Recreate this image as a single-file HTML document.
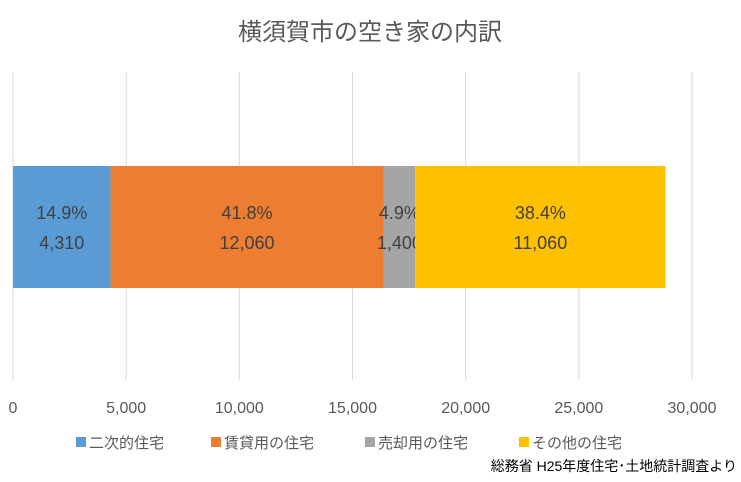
<!DOCTYPE html>
<html><head><meta charset="utf-8">
<style>
body{margin:0;background:#fff;}
svg text{font-family:"Liberation Sans","Noto Sans CJK JP",sans-serif;}
</style></head>
<body>
<svg width="741" height="477" xmlns="http://www.w3.org/2000/svg">
<rect width="741" height="477" fill="#fff"/>
<text x="370" y="40" text-anchor="middle" font-size="24" fill="#595959">横須賀市の空き家の内訳</text>
<g id="grid"></g>
<g id="ticks"></g>
<g id="bars"></g>
<g id="legend"></g>
<text x="737" y="471" text-anchor="end" font-size="14" fill="#000">総務省  H25年度住宅･土地統計調査より</text>
</svg>
<script>
const categories=["二次的住宅","賃貸用の住宅","売却用の住宅","その他の住宅"];
const values=[4310,12060,1400,11060];
const percents=["14.9%","41.8%","4.9%","38.4%"];
const tickValues=[0,5000,10000,15000,20000,25000,30000];
const colors=["#5B9BD5","#ED7D31","#A5A5A5","#FFC000"];
const NS="http://www.w3.org/2000/svg";
const x0=13,x1=692,max=30000;
const xs=v=>x0+(x1-x0)*v/max;
function mk(tag,attrs,parent){const e=document.createElementNS(NS,tag);for(const k in attrs)e.setAttribute(k,attrs[k]);parent.appendChild(e);return e;}
const grid=document.getElementById('grid'),ticks=document.getElementById('ticks'),bars=document.getElementById('bars'),legend=document.getElementById('legend');
tickValues.forEach(v=>{
  const l=mk('line',{x1:xs(v),x2:xs(v),y1:72,y2:380,stroke:'#D9D9D9','stroke-width':1},grid);
  
  
  const t=mk('text',{x:xs(v),y:413,'text-anchor':'middle','font-size':16,fill:'#595959'},ticks);
  t.textContent=v.toLocaleString('en-US');
  
  
});
let cum=0;
values.forEach((v,i)=>{
  const a=xs(cum),b=xs(cum+v);
  const r=mk('rect',{x:a,y:166,width:b-a,height:122,fill:colors[i]},bars);
  
  
  const cx=(a+b)/2;
  const t1=mk('text',{x:cx,y:219,'text-anchor':'middle','font-size':18,fill:'#404040'},bars);
  t1.textContent=percents[i];
  
  
  const t2=mk('text',{x:cx,y:249,'text-anchor':'middle','font-size':18,fill:'#404040'},bars);
  t2.textContent=v.toLocaleString('en-US');
  
  
  cum+=v;
});
const lx=[76,211,365,519];
categories.forEach((c,i)=>{
  const r=mk('rect',{x:lx[i],y:437,width:10,height:10,fill:colors[i]},legend);
  
  
  const t=mk('text',{x:lx[i]+13,y:448,'font-size':15,fill:'#595959'},legend);
  t.textContent=c;
  
  
});
</script>
</body></html>
